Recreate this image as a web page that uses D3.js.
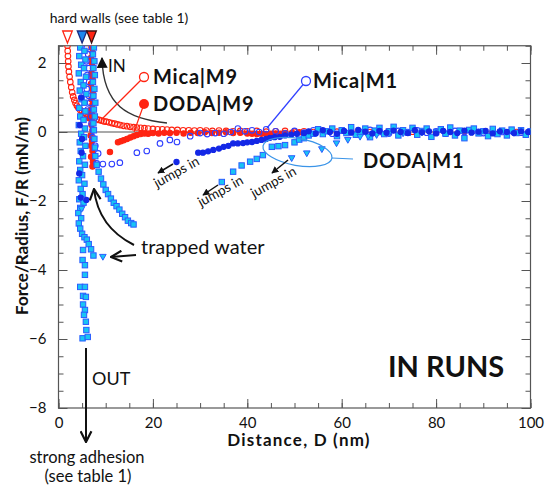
<!DOCTYPE html>
<html><head><meta charset="utf-8">
<script src="https://cdn.jsdelivr.net/npm/d3@7"></script>
<style>body{margin:0;background:#fff}svg{display:block}text{font-family:Lato,"Open Sans",sans-serif;fill:#111}</style>
</head><body><svg id="c" width="546" height="486"></svg>
<script>
// ---------- data: [D (nm), F/R (mN/m)] ----------
const micaM9 = [[1.9,2.5],[1.95,2.35],[2.0,2.2],[2.05,2.05],[2.1,1.9],[2.2,1.75],[2.35,1.6],[2.5,1.45],[2.7,1.3],[2.9,1.15],[3.1,1.03],[3.35,0.93],[3.6,0.84],[3.9,0.76],[4.2,0.7],[4.6,0.64],[5.0,0.6],[5.4,0.56],[5.8,0.52],[6.2,0.49],[6.6,0.46],[7.1,0.43],[7.6,0.4],[8.1,0.37],[8.6,0.35],[9.1,0.33],[9.6,0.31],[10.1,0.3],[10.7,0.28],[11.3,0.26],[11.9,0.24],[12.5,0.22],[13.1,0.2],[13.8,0.18],[14.5,0.17],[15.2,0.15],[15.9,0.14],[16.6,0.13],[17.4,0.12],[18.2,0.11],[19.0,0.1],[20.0,0.09],[21.0,0.08],[22.0,0.08],[23.0,0.07],[24.0,0.06],[25.2,0.06],[26.4,0.05],[27.6,0.05],[28.8,0.04],[30.0,0.05],[31.3,0.04],[32.6,0.03],[34.0,0.04],[35.5,0.03],[37.0,0.02],[38.5,0.03],[40.0,0.02],[42.0,0.03],[44.0,0.01],[46.0,0.02],[48.0,0.03],[50.0,0.01],[52.0,0.02],[54.0,0.0],[56.0,0.02],[59.0,0.01],[62.0,0.03],[66.0,0.0],[70.0,0.02],[75.0,0.01],[80.0,0.0],[86.0,0.02],[92.0,0.01],[97.0,0.0]];

const dodaM9 = [[7.0,2.45],[7.2,2.3],[6.9,2.15],[7.1,2.0],[7.3,1.85],[7.0,1.7],[7.2,1.55],[6.9,1.4],[7.1,1.25],[7.3,1.1],[7.0,0.95],[7.2,0.8],[6.9,0.65],[7.1,0.5],[6.5,0.4],[7.0,0.2],[7.2,0.05],[6.8,-0.1],[7.1,-0.25],[6.9,-0.4],[7.2,-0.55],[6.9,-0.72],[7.3,-0.86],[7.2,-1.0],[10.9,-0.58],[12.6,-0.3],[13.2,-0.27],[13.8,-0.24],[14.5,-0.2],[15.2,-0.16],[15.9,-0.12],[16.6,-0.09],[17.4,-0.06],[18.2,-0.04],[19.0,-0.05],[20.0,-0.03],[21.2,-0.04],[22.4,-0.02],[23.6,-0.03],[25.0,-0.02],[26.5,-0.04],[28.0,-0.02],[29.5,-0.03],[31.0,-0.01],[32.5,-0.03],[34.0,-0.02],[35.5,-0.01],[37.0,-0.03],[38.5,-0.02],[40.0,-0.04],[41.0,-0.05],[42.0,-0.06],[43.0,-0.05],[44.0,-0.06],[45.0,-0.05],[46.0,-0.04],[47.0,-0.05],[48.0,-0.03],[49.5,-0.02],[51.0,-0.01]];

const micaM1 = [[6.0,2.45],[6.3,2.25],[5.9,2.05],[6.4,1.85],[6.1,1.65],[6.5,1.45],[6.0,1.25],[6.4,1.05],[6.7,0.85],[6.2,0.65],[6.9,0.45],[7.0,0.25],[7.3,0.05],[7.2,-0.15],[7.8,-0.4],[8.4,-0.62],[8.1,-0.91],[9.4,-0.93],[11.3,-0.93],[13.0,-0.89],[16.6,-0.6],[18.7,-0.55],[21.5,-0.33],[23.6,-0.23],[25.1,-0.29],[27.9,-0.12],[30.0,-0.03],[31.5,-0.06],[33.2,-0.03],[35.0,-0.05],[36.5,0.0],[38.0,0.1],[39.5,0.02],[41.0,0.05],[42.5,0.0],[44.0,0.08],[46.0,0.02],[48.0,-0.04],[50.0,0.03],[52.0,-0.02],[54.0,0.05],[56.0,0.0],[58.0,-0.05],[60.0,0.04],[62.0,0.01],[64.0,-0.03],[66.0,0.06],[68.0,0.0],[70.0,-0.04],[72.0,0.03],[74.0,0.0],[76.0,0.05],[78.0,-0.02],[80.0,0.02],[82.0,-0.05],[84.0,0.03],[86.0,0.0],[88.0,0.04],[90.0,-0.03],[92.0,0.02],[94.0,0.0],[96.0,0.03],[98.0,-0.02],[100.0,0.01]];

const dodaM1a = [[4.8,1.0],[4.5,0.2],[5.0,-0.2],[4.9,-0.6],[4.4,-1.2],[5.9,-1.97],[4.7,-1.9],[25.0,-0.87],[29.6,-0.6],[30.6,-0.6],[31.7,-0.56],[32.8,-0.52],[34.0,-0.48],[35.0,-0.43],[36.0,-0.4],[37.0,-0.33],[38.0,-0.33],[39.1,-0.32],[40.0,-0.3],[41.0,-0.29],[42.0,-0.26],[43.0,-0.23],[44.0,-0.2],[44.8,-0.17],[45.8,-0.15],[46.9,-0.14],[48.0,-0.1],[49.3,-0.08],[50.5,-0.05],[52.0,-0.03],[53.0,0.02],[54.5,-0.04],[56.0,0.05],[57.5,0.0],[59.0,-0.05],[60.5,0.03],[62.0,-0.02],[63.5,0.06],[65.0,0.01],[66.5,-0.04],[68.0,0.03],[69.5,-0.02],[71.0,0.04],[72.5,0.0],[74.0,-0.03],[75.5,0.05],[77.0,-0.01],[78.5,0.02],[80.0,-0.04],[81.5,0.03],[83.0,0.0],[84.5,-0.03],[86.0,0.04],[87.5,-0.02],[89.0,0.01],[90.5,0.03],[92.0,-0.04],[93.5,0.02],[95.0,0.0],[96.5,-0.03],[98.0,0.02],[99.5,0.0]];

const dodaM1b = [[4.6,2.45],[5.5,2.35],[4.4,2.2],[5.7,2.1],[4.8,1.95],[5.4,1.85],[4.3,1.7],[5.8,1.6],[4.7,1.45],[5.3,1.35],[4.5,1.2],[5.9,1.1],[4.9,0.95],[5.5,0.85],[4.4,0.7],[5.7,0.6],[4.6,0.45],[5.3,0.35],[4.3,0.2],[5.6,0.1],[4.8,-0.05],[5.4,-0.15],[4.5,-0.3],[5.7,-0.4],[4.7,-0.55],[5.2,-0.7],[4.4,-0.85],[5.6,-0.95],[4.6,-1.1],[5.0,-1.25],[4.3,-1.4],[5.5,-1.5],[4.7,-1.65],[5.1,-1.8],[4.4,-1.95],[5.3,-2.05],[4.6,-2.2],[4.2,-2.35],[4.8,-2.5],[4.3,-2.65],[4.6,-2.8],[5.0,-2.95],[5.5,-3.05],[6.0,-3.12],[6.4,-3.25],[6.9,-3.4],[7.4,-3.58],[5.2,-3.42],[5.1,-3.71],[5.6,-3.86],[5.6,-4.14],[4.6,-4.49],[5.6,-4.49],[5.2,-4.75],[5.8,-4.78],[5.2,-5.0],[5.6,-5.16],[5.4,-5.3],[5.8,-5.5],[5.9,-5.74],[5.1,-5.98],[6.2,-5.94],
[7.5,2.45],[7.3,2.25],[7.6,2.05],[7.4,1.85],[7.7,1.65],[7.3,1.45],[7.6,1.25],[7.4,1.05],[7.8,0.85],[7.5,0.65],[7.7,0.45],[7.4,0.25],[7.5,0.05],[7.6,-0.2],[7.7,-0.45],[7.8,-0.7],[8.1,-0.95],[8.5,-1.15],[9.0,-1.35],[9.5,-1.52],[10.0,-1.68],[10.5,-1.8],[11.1,-1.93],[11.7,-2.05],[12.3,-2.15],[12.9,-2.25],[13.5,-2.37],[14.1,-2.47],[14.7,-2.57],[15.4,-2.64],[15.9,-2.68],
[34.6,-1.45],[37.0,-1.15],[38.8,-0.97],[40.6,-0.86],[42.0,-0.78],[43.3,-0.67],[45.2,-0.43],[46.6,-0.41],[48.0,-0.38],
[50,-0.30],[51,-0.22],[52,-0.18],[53,-0.1],[54,-0.05],[55,0.08],[56,-0.06],[57,0.02],[58,0.1],[59,-0.12],[60,0.05],[61,-0.03],[62,0.14],[63,-0.08],[64,0.0],[65,0.1],[66,-0.15],[67,0.04],[68,0.12],[69,-0.06],[70,0.02],[71,0.15],[72,-0.1],[73,0.05],[74,-0.02],[75,0.12],[76,-0.08],[77,0.03],[78,0.1],[79,-0.14],[80,0.0],[81,0.08],[82,-0.05],[83,0.13],[84,-0.1],[85,0.04],[86,-0.18],[87,0.06],[88,0.1],[89,-0.04],[90,0.02],[91,-0.12],[92,0.09],[93,-0.06],[94,0.04],[95,-0.1],[96,0.07],[97,-0.03],[98,0.05],[99,-0.08],[100,0.02]];

const dodaM1c = [[4.9,-2.23],[9.4,-3.62],[49.4,-0.76],[52.6,-0.62],[55.8,-0.5],[58.9,-0.33],[61.3,-0.23],[63.9,-0.14],[65.6,-0.13],[67.4,-0.09],[70.0,-0.05],[73.0,-0.04],[77.0,-0.02]];

const hardWalls = [1.9, 5.0, 7.0];
const xMajorTicks = [0,20,40,60,80,100];
const yMajorTicks = [-8,-6,-4,-2,0,2];

// ---------- layout ----------
const svg = d3.select("#c");
const x = d3.scaleLinear().domain([0,100]).range([58.5,530.5]);
const y = d3.scaleLinear().domain([-8,2.5]).range([408,45.75]);
const RED="#ff2412", BLUE="#3040ff", DBLUE="#1428e6", CYAN="#18c4f4", LBLUE="#3a94e8";

svg.append("defs").append("clipPath").attr("id","clip")
  .append("rect").attr("x",58.5).attr("y",45.75).attr("width",472).attr("height",362.25);

// axes
const xMinor = d3.range(0,101,5), yMinor = d3.range(-8,2.51,0.5);
function styleAxis(g){ g.select(".domain").remove(); g.selectAll("line").attr("stroke","#555"); g.selectAll("text").attr("font-size",15).attr("fill","#111").attr("font-family","Lato"); }
svg.append("g").attr("transform","translate(0,408)").call(d3.axisBottom(x).tickValues(xMinor).tickSize(-5).tickFormat("")).call(styleAxis);
svg.append("g").attr("transform","translate(0,408)").call(d3.axisBottom(x).tickValues(xMajorTicks).tickSize(-9).tickPadding(9).tickFormat(d3.format("d"))).call(styleAxis);
svg.append("g").attr("transform","translate(0,45.75)").call(d3.axisTop(x).tickValues(xMinor).tickSize(-5).tickFormat("")).call(styleAxis);
svg.append("g").attr("transform","translate(0,45.75)").call(d3.axisTop(x).tickValues(xMajorTicks).tickSize(-9).tickFormat("")).call(styleAxis);
svg.append("g").attr("transform","translate(58.5,0)").call(d3.axisLeft(y).tickValues(yMinor).tickSize(-5).tickFormat("")).call(styleAxis);
svg.append("g").attr("transform","translate(58.5,0)").call(d3.axisLeft(y).tickValues(yMajorTicks).tickSize(-9).tickPadding(12).tickFormat(d3.format("d"))).call(styleAxis);
svg.append("g").attr("transform","translate(530.5,0)").call(d3.axisRight(y).tickValues(yMinor).tickSize(-5).tickFormat("")).call(styleAxis);
svg.append("g").attr("transform","translate(530.5,0)").call(d3.axisRight(y).tickValues(yMajorTicks).tickSize(-9).tickFormat("")).call(styleAxis);

svg.append("rect").attr("x",58.5).attr("y",45.75).attr("width",472).attr("height",362.25).attr("fill","none").attr("stroke","#555").attr("stroke-width",1.2);
svg.append("line").attr("x1",x(0)).attr("x2",x(100)).attr("y1",y(0)).attr("y2",y(0)).attr("stroke","#555").attr("stroke-width",1.2);

// data marks
const plot = svg.append("g").attr("clip-path","url(#clip)");
function circles(data, fill, stroke, r){
  plot.append("g").selectAll("circle").data(data).join("circle")
    .attr("cx",d=>x(d[0])).attr("cy",d=>y(d[1])).attr("r",r)
    .attr("fill",fill).attr("stroke",stroke).attr("stroke-width",1.1);
}
circles(micaM9,"none",RED,2.8);
circles(dodaM9,RED,RED,2.7);
circles(micaM1,"none",BLUE,2.8);
plot.append("g").selectAll("rect").data(dodaM1b).join("rect")
  .attr("x",d=>x(d[0])-2.7).attr("y",d=>y(d[1])-2.7).attr("width",5.4).attr("height",5.4)
  .attr("fill",CYAN).attr("stroke","#2a5cff").attr("stroke-width",1);
plot.append("g").selectAll("path").data(dodaM1c).join("path")
  .attr("d",d=>{const cx=x(d[0]),cy=y(d[1]);return `M${cx-3.3},${cy-2.5}L${cx+3.3},${cy-2.5}L${cx},${cy+3.3}Z`;})
  .attr("fill",CYAN).attr("stroke","#2a5cff").attr("stroke-width",1);
circles(dodaM1a,DBLUE,DBLUE,2.6);

// hard wall triangles
const hwFill=["#fff","#1e88f0",RED], hwStroke=[RED,"#1a2a80","#3a1010"];
svg.append("g").selectAll("path").data(hardWalls).join("path")
  .attr("d",d=>{const cx=x(d);return `M${cx-4.8},31L${cx+4.8},31L${cx},43Z`;})
  .attr("fill",(d,i)=>hwFill[i]).attr("stroke",(d,i)=>hwStroke[i]).attr("stroke-width",1.3);
svg.append("text").attr("x",119).attr("y",23).attr("text-anchor","middle").attr("font-size",14).text("hard walls (see table 1)");

// arrowheads
const defs = svg.select("defs");
defs.append("marker").attr("id","tri").attr("viewBox","0 0 10 10").attr("refX",9).attr("refY",5)
  .attr("markerWidth",7).attr("markerHeight",7).attr("orient","auto-start-reverse").attr("markerUnits","userSpaceOnUse")
  .append("path").attr("d","M0,0L10,5L0,10Z").attr("fill","#111");
defs.append("marker").attr("id","vee").attr("viewBox","0 0 12 12").attr("refX",11).attr("refY",6)
  .attr("markerWidth",13).attr("markerHeight",13).attr("orient","auto").attr("markerUnits","userSpaceOnUse")
  .append("path").attr("d","M1,1L11,6L1,11").attr("fill","none").attr("stroke","#111").attr("stroke-width",2);
defs.append("marker").attr("id","big").attr("viewBox","0 0 10 10").attr("refX",9).attr("refY",5)
  .attr("markerWidth",11).attr("markerHeight",11).attr("orient","auto").attr("markerUnits","userSpaceOnUse")
  .append("path").attr("d","M0,0L10,5L0,10Z").attr("fill","#111");

// IN arrow
svg.append("path").attr("d","M167,123 C128,119 103,106 102,58").attr("fill","none").attr("stroke","#333").attr("stroke-width",1.4).attr("marker-end","url(#big)");
svg.append("text").attr("x",108).attr("y",72).attr("font-size",17).text("IN");

// legend pointers
svg.append("line").attr("x1",144).attr("y1",77).attr("x2",101).attr("y2",120).attr("stroke",RED).attr("stroke-width",1.2);
svg.append("line").attr("x1",144).attr("y1",104).attr("x2",134).attr("y2",132).attr("stroke",RED).attr("stroke-width",1.2);
svg.append("line").attr("x1",306).attr("y1",81).attr("x2",267).attr("y2",128).attr("stroke",BLUE).attr("stroke-width",1.2);
svg.append("circle").attr("cx",144).attr("cy",77).attr("r",4.5).attr("fill","#fff").attr("stroke",RED).attr("stroke-width",1.3);
svg.append("circle").attr("cx",144).attr("cy",104).attr("r",5).attr("fill",RED);
svg.append("circle").attr("cx",306).attr("cy",81).attr("r",4.5).attr("fill","#fff").attr("stroke",BLUE).attr("stroke-width",1.3);
svg.append("ellipse").attr("cx",0).attr("cy",0).attr("rx",35).attr("ry",13.5).attr("transform","translate(297.5,152) rotate(10)").attr("fill","none").attr("stroke",LBLUE).attr("stroke-width",1.2);
svg.append("line").attr("x1",332).attr("y1",158).attr("x2",353).attr("y2",159).attr("stroke",LBLUE).attr("stroke-width",1.2);

function bold(t,xx,yy,fs,ls){svg.append("text").attr("x",xx).attr("y",yy).attr("font-size",fs).attr("font-weight","bold").attr("letter-spacing",ls).text(t);}
bold("Mica|M9",153,84,20,0.8);
bold("DODA|M9",153,111,20,0.8);
bold("Mica|M1",313,88,20,0.8);
bold("DODA|M1",363,168,20,0.8);
bold("IN RUNS",388,377,29,0);

// jumps in
const jumps = [[176,162,158,173,157,188],[221,183,203,195,201,207],[291,158,272,173,254,198]];
jumps.forEach(j=>{
  svg.append("line").attr("x1",j[0]-3).attr("y1",j[1]+2).attr("x2",j[2]).attr("y2",j[3]).attr("stroke","#111").attr("stroke-width",1.5).attr("marker-end","url(#tri)");
  svg.append("text").attr("transform",`translate(${j[4]},${j[5]}) rotate(-29)`).attr("font-size",13.5).text("jumps in");
});

// trapped water
svg.append("path").attr("d","M134,245 C112,234 97,216 94,189").attr("fill","none").attr("stroke","#111").attr("stroke-width",2).attr("marker-end","url(#vee)");
svg.append("line").attr("x1",136).attr("y1",255).attr("x2",111).attr("y2",257).attr("stroke","#111").attr("stroke-width",2).attr("marker-end","url(#vee)");
svg.append("text").attr("x",141).attr("y",254).attr("font-size",20).text("trapped water");

// OUT
svg.append("line").attr("x1",86).attr("y1",348).attr("x2",86).attr("y2",442).attr("stroke","#111").attr("stroke-width",2).attr("marker-end","url(#vee)");
svg.append("text").attr("x",92).attr("y",385).attr("font-size",18).text("OUT");
svg.append("text").attr("x",87).attr("y",463).attr("text-anchor","middle").attr("font-size",16.5).text("strong adhesion");
svg.append("text").attr("x",88).attr("y",482).attr("text-anchor","middle").attr("font-size",16.5).text("(see table 1)");

// axis titles
svg.append("text").attr("x",299).attr("y",446).attr("text-anchor","middle").attr("font-size",17).attr("font-weight","bold").attr("letter-spacing",1.2).text("Distance, D (nm)");
svg.append("text").attr("transform","translate(28,216) rotate(-90)").attr("text-anchor","middle").attr("font-size",17).attr("font-weight","bold").text("Force/Radius, F/R (mN/m)");
</script></body></html>
